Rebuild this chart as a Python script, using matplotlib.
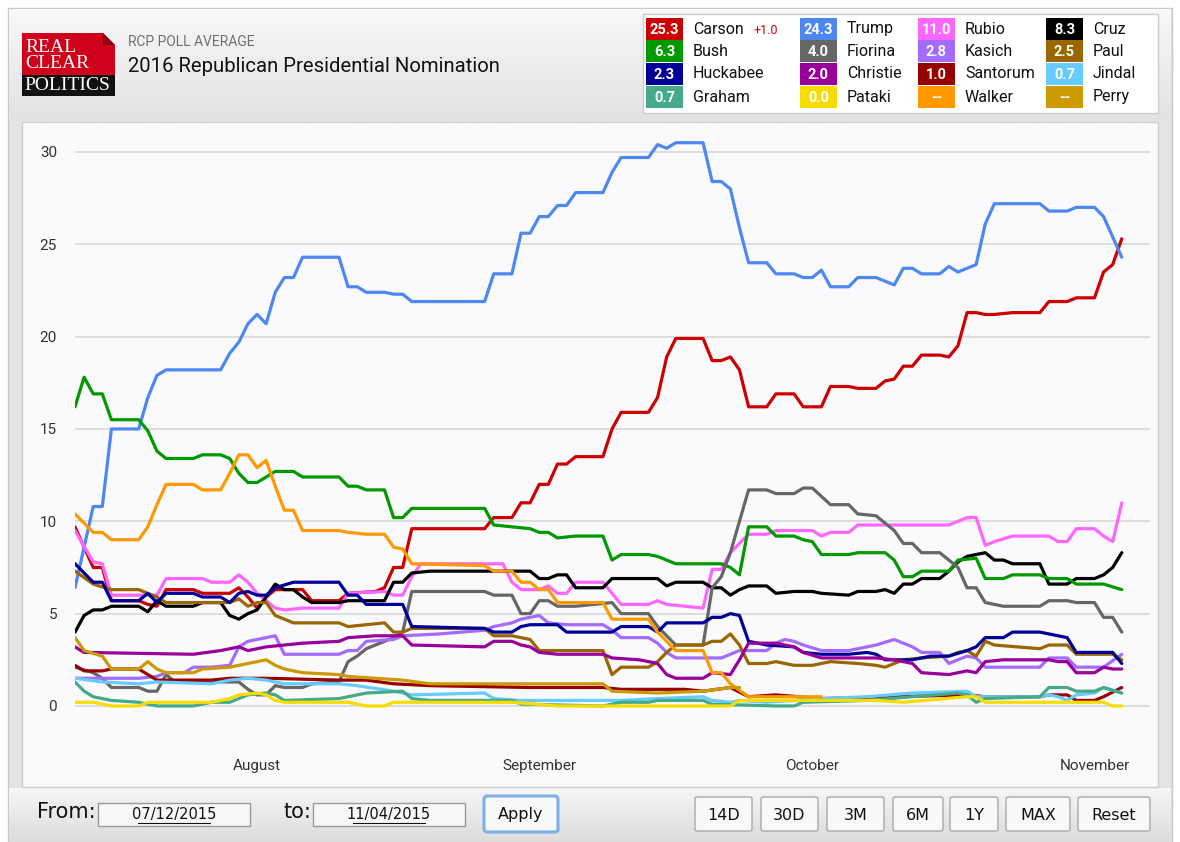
import numpy as np
import pandas as pd
import matplotlib
matplotlib.use('Agg')
import matplotlib.pyplot as plt
from matplotlib.patches import Rectangle, Polygon, FancyBboxPatch
import matplotlib.transforms as mtransforms

START = pd.Timestamp('2015-07-12')

# day offsets from 07/12/2015 and RCP average values
carson_days = [0, 2, 3, 4, 7, 8, 9, 10, 13, 14, 17, 18, 19, 20, 21, 22, 25, 26, 29, 30, 33, 34, 35, 36, 37, 45, 46, 48, 49, 50, 51, 52, 53, 54, 55, 58, 59, 60, 63, 64, 65, 66, 69, 70, 71, 72, 73, 74, 76, 77, 79, 80, 82, 83, 85, 86, 88, 89, 90, 91, 92, 93, 95, 96, 97, 98, 99, 100, 101, 103, 106, 107, 109, 110, 112, 113, 114, 115]
carson_vals = [9.7, 7.5, 7.5, 5.7, 5.7, 5.5, 5.4, 6.3, 6.3, 6.1, 6.1, 6.4, 5.9, 5.3, 5.9, 6.3, 6.3, 5.7, 5.7, 6.1, 6.2, 6.4, 7.5, 7.5, 9.6, 9.6, 10.2, 10.2, 11.0, 11.0, 12.0, 12.0, 13.1, 13.1, 13.5, 13.5, 15.0, 15.9, 15.9, 16.7, 18.9, 19.9, 19.9, 18.7, 18.7, 18.9, 18.2, 16.2, 16.2, 16.9, 16.9, 16.2, 16.2, 17.3, 17.3, 17.2, 17.2, 17.6, 17.7, 18.4, 18.4, 19.0, 19.0, 18.9, 19.5, 21.3, 21.3, 21.2, 21.2, 21.3, 21.3, 21.9, 21.9, 22.1, 22.1, 23.5, 23.9, 25.3]

trump_days = [0, 2, 3, 4, 7, 8, 9, 10, 16, 17, 18, 19, 20, 21, 22, 23, 24, 25, 29, 30, 31, 32, 34, 35, 36, 37, 45, 46, 48, 49, 50, 51, 52, 53, 54, 55, 58, 59, 60, 63, 64, 65, 66, 69, 70, 71, 72, 73, 74, 76, 77, 79, 80, 81, 82, 83, 85, 86, 88, 90, 91, 92, 93, 95, 96, 97, 99, 100, 101, 106, 107, 109, 110, 112, 113, 114, 115]
trump_vals = [6.4, 10.8, 10.8, 15.0, 15.0, 16.7, 17.9, 18.2, 18.2, 19.1, 19.7, 20.7, 21.2, 20.7, 22.4, 23.2, 23.2, 24.3, 24.3, 22.7, 22.7, 22.4, 22.4, 22.3, 22.3, 21.9, 21.9, 23.4, 23.4, 25.6, 25.6, 26.5, 26.5, 27.1, 27.1, 27.8, 27.8, 28.9, 29.7, 29.7, 30.4, 30.2, 30.5, 30.5, 28.4, 28.4, 28.0, 25.9, 24.0, 24.0, 23.4, 23.4, 23.2, 23.2, 23.6, 22.7, 22.7, 23.2, 23.2, 22.8, 23.7, 23.7, 23.4, 23.4, 23.8, 23.5, 23.9, 26.1, 27.2, 27.2, 26.8, 26.8, 27.0, 27.0, 26.5, 25.4, 24.3]

rubio_days = [0, 2, 3, 4, 9, 10, 14, 15, 17, 18, 19, 20, 22, 23, 25, 29, 30, 34, 35, 36, 37, 38, 47, 48, 49, 51, 52, 53, 54, 55, 58, 60, 63, 64, 65, 69, 70, 71, 72, 73, 74, 76, 77, 81, 82, 83, 85, 86, 96, 98, 99, 100, 101, 103, 107, 108, 109, 110, 112, 113, 114, 115]
rubio_vals = [9.5, 7.8, 7.7, 6.0, 6.0, 6.9, 6.9, 6.7, 6.7, 7.1, 6.7, 6.1, 5.3, 5.2, 5.3, 5.3, 6.1, 6.2, 6.0, 6.0, 7.0, 7.7, 7.7, 6.7, 6.3, 6.3, 6.5, 6.1, 6.1, 6.7, 6.7, 5.5, 5.5, 5.7, 5.5, 5.3, 7.4, 7.4, 8.3, 8.8, 9.3, 9.3, 9.5, 9.5, 9.2, 9.4, 9.4, 9.8, 9.8, 10.2, 10.2, 8.7, 8.9, 9.2, 9.2, 8.9, 8.9, 9.6, 9.6, 9.2, 8.9, 11.0]

cruz_days = [0, 1, 2, 3, 4, 7, 8, 9, 10, 13, 14, 16, 17, 18, 19, 20, 21, 22, 23, 24, 25, 26, 29, 30, 34, 35, 36, 37, 39, 50, 51, 52, 53, 54, 55, 58, 59, 64, 65, 66, 69, 70, 71, 72, 73, 74, 76, 77, 79, 81, 82, 85, 86, 88, 89, 90, 91, 92, 93, 95, 96, 97, 98, 100, 101, 102, 103, 106, 107, 109, 110, 112, 113, 114, 115]
cruz_vals = [4.0, 4.9, 5.2, 5.2, 5.4, 5.4, 5.1, 5.7, 5.4, 5.4, 5.6, 5.6, 4.9, 4.7, 5.0, 5.2, 5.9, 6.6, 6.3, 6.3, 5.9, 5.6, 5.6, 5.7, 5.7, 6.7, 6.7, 7.2, 7.3, 7.3, 6.9, 6.9, 7.1, 7.1, 6.4, 6.4, 6.9, 6.9, 6.5, 6.7, 6.7, 6.4, 6.4, 6.0, 6.3, 6.5, 6.5, 6.1, 6.2, 6.2, 6.1, 6.0, 6.2, 6.2, 6.3, 6.1, 6.6, 6.6, 6.9, 6.9, 7.3, 7.8, 8.1, 8.3, 7.9, 7.9, 7.7, 7.7, 6.6, 6.6, 6.9, 6.9, 7.1, 7.5, 8.3]

bush_days = [0, 1, 2, 3, 4, 7, 8, 9, 10, 13, 14, 16, 17, 18, 19, 20, 22, 24, 25, 29, 30, 31, 32, 34, 35, 36, 37, 45, 46, 48, 50, 51, 52, 53, 55, 58, 59, 60, 63, 64, 66, 71, 72, 73, 74, 76, 77, 79, 80, 81, 82, 85, 86, 89, 90, 91, 92, 93, 96, 97, 99, 100, 102, 103, 106, 107, 109, 110, 113, 115]
bush_vals = [16.2, 17.8, 16.9, 16.9, 15.5, 15.5, 14.9, 13.8, 13.4, 13.4, 13.6, 13.6, 13.4, 12.6, 12.1, 12.1, 12.7, 12.7, 12.4, 12.4, 11.9, 11.9, 11.7, 11.7, 10.2, 10.2, 10.7, 10.7, 9.8, 9.7, 9.6, 9.4, 9.4, 9.1, 9.2, 9.2, 7.9, 8.2, 8.2, 8.1, 7.7, 7.7, 7.5, 7.1, 9.7, 9.7, 9.2, 9.2, 9.0, 8.9, 8.2, 8.2, 8.3, 8.3, 7.9, 7.0, 7.0, 7.3, 7.3, 7.9, 8.0, 6.9, 6.9, 7.1, 7.1, 6.9, 6.9, 6.6, 6.6, 6.3]

fiorina_days = [0, 2, 3, 4, 7, 8, 9, 10, 11, 18, 19, 20, 21, 22, 23, 25, 26, 29, 30, 31, 32, 35, 36, 37, 45, 46, 48, 49, 50, 51, 52, 53, 55, 59, 60, 63, 64, 66, 69, 70, 71, 72, 73, 74, 76, 77, 79, 80, 81, 83, 85, 86, 88, 90, 91, 92, 93, 95, 97, 98, 99, 100, 102, 106, 107, 109, 110, 112, 113, 114, 115]
fiorina_vals = [2.1, 1.8, 1.5, 1.0, 1.0, 0.8, 0.8, 1.7, 1.3, 1.3, 0.9, 0.6, 0.6, 1.1, 1.0, 1.0, 1.2, 1.3, 2.4, 2.7, 3.1, 3.7, 4.0, 6.2, 6.2, 6.0, 6.0, 5.0, 5.0, 5.7, 5.7, 5.4, 5.4, 5.6, 5.0, 5.0, 4.3, 3.3, 3.3, 6.4, 7.0, 8.3, 10.0, 11.7, 11.7, 11.5, 11.5, 11.8, 11.8, 10.9, 10.9, 10.4, 10.3, 9.5, 8.8, 8.8, 8.3, 8.3, 7.5, 6.4, 6.4, 5.6, 5.4, 5.4, 5.7, 5.7, 5.6, 5.6, 4.8, 4.8, 4.0]

kasich_days = [0, 7, 9, 10, 12, 13, 15, 17, 18, 19, 20, 21, 22, 23, 29, 30, 31, 32, 35, 36, 40, 45, 46, 48, 49, 50, 51, 52, 54, 58, 59, 60, 63, 64, 65, 66, 71, 72, 73, 76, 77, 78, 79, 80, 82, 85, 87, 88, 90, 91, 92, 93, 95, 96, 98, 99, 100, 106, 107, 109, 110, 113, 115]
kasich_vals = [1.5, 1.5, 1.6, 1.8, 1.8, 2.1, 2.1, 2.2, 3.2, 3.5, 3.6, 3.7, 3.8, 2.8, 2.8, 3.0, 3.0, 3.5, 3.6, 3.8, 3.9, 4.1, 4.3, 4.5, 4.7, 4.8, 4.9, 4.5, 4.4, 4.4, 4.1, 3.7, 3.7, 3.4, 2.9, 2.6, 2.6, 2.8, 3.0, 3.0, 3.4, 3.6, 3.5, 3.3, 3.0, 3.0, 3.2, 3.3, 3.6, 3.4, 3.2, 2.9, 2.9, 2.3, 2.7, 2.6, 2.1, 2.1, 2.6, 2.6, 2.1, 2.1, 2.8]

paul_days = [0, 2, 4, 7, 8, 9, 10, 17, 18, 19, 20, 21, 22, 23, 24, 29, 30, 34, 35, 36, 37, 45, 46, 48, 49, 50, 51, 58, 59, 60, 63, 64, 65, 66, 69, 70, 71, 72, 73, 74, 76, 77, 79, 81, 83, 86, 88, 89, 90, 91, 93, 96, 97, 98, 99, 100, 101, 106, 107, 109, 110, 114, 115]
paul_vals = [7.3, 6.6, 6.3, 6.3, 6.1, 5.9, 5.6, 5.6, 5.8, 5.4, 5.6, 5.6, 4.9, 4.7, 4.5, 4.5, 4.3, 4.5, 4.0, 4.0, 4.2, 4.2, 3.8, 3.8, 3.7, 3.6, 3.0, 3.0, 1.7, 2.1, 2.1, 2.4, 2.9, 3.3, 3.3, 3.5, 3.5, 3.9, 3.3, 2.3, 2.3, 2.4, 2.2, 2.2, 2.4, 2.3, 2.2, 2.1, 2.3, 2.5, 2.6, 2.7, 2.9, 3.0, 2.7, 3.5, 3.3, 3.1, 3.3, 3.3, 2.8, 2.8, 2.5]

huckabee_days = [0, 1, 2, 3, 4, 7, 8, 9, 10, 13, 14, 16, 17, 18, 19, 20, 21, 22, 24, 29, 30, 31, 32, 36, 37, 45, 46, 48, 49, 50, 53, 54, 59, 60, 63, 64, 65, 69, 70, 71, 72, 73, 74, 76, 79, 80, 82, 85, 87, 88, 89, 92, 94, 96, 98, 99, 100, 102, 103, 106, 109, 110, 114, 115]
huckabee_vals = [7.7, 7.2, 6.7, 6.7, 5.7, 5.7, 6.1, 5.6, 6.1, 6.1, 5.9, 5.9, 5.6, 6.1, 6.2, 6.0, 6.0, 6.4, 6.7, 6.7, 6.0, 6.0, 5.5, 5.5, 4.3, 4.2, 4.0, 4.0, 4.3, 4.4, 4.4, 4.0, 4.0, 4.3, 4.3, 4.0, 4.5, 4.5, 4.8, 4.8, 5.0, 4.9, 3.5, 3.3, 3.2, 2.9, 2.8, 2.8, 2.9, 2.8, 2.5, 2.5, 2.7, 2.7, 3.0, 3.2, 3.7, 3.7, 4.0, 4.0, 3.7, 2.9, 2.9, 2.3]

christie_days = [0, 1, 13, 16, 18, 19, 21, 23, 25, 29, 30, 33, 36, 37, 45, 46, 48, 49, 50, 51, 53, 58, 59, 62, 64, 65, 66, 69, 70, 72, 73, 74, 77, 79, 80, 82, 88, 90, 92, 93, 96, 98, 99, 100, 102, 107, 108, 109, 110, 112, 113, 114, 115]
christie_vals = [3.2, 2.9, 2.8, 3.0, 3.2, 3.0, 3.2, 3.3, 3.4, 3.5, 3.7, 3.8, 3.8, 3.3, 3.2, 3.5, 3.5, 3.3, 3.2, 2.9, 2.8, 2.8, 2.6, 2.5, 2.3, 1.7, 1.5, 1.5, 1.8, 1.7, 2.5, 3.4, 3.4, 3.2, 2.9, 2.6, 2.6, 2.5, 2.3, 1.8, 1.7, 1.9, 1.8, 2.4, 2.5, 2.5, 2.4, 2.4, 1.8, 1.8, 2.1, 2.0, 2.0]

santorum_days = [0, 1, 3, 4, 7, 8, 9, 15, 17, 21, 29, 32, 35, 39, 50, 58, 60, 67, 69, 72, 74, 77, 82, 98, 100, 106, 107, 109, 110, 112, 113, 115]
santorum_vals = [2.2, 1.9, 1.9, 2.0, 2.0, 1.7, 1.4, 1.4, 1.5, 1.5, 1.4, 1.4, 1.2, 1.1, 1.0, 1.0, 0.9, 0.9, 0.8, 1.0, 0.5, 0.6, 0.4, 0.6, 0.5, 0.5, 0.6, 0.6, 0.3, 0.3, 0.5, 1.0]

jindal_days = [0, 3, 7, 9, 15, 17, 19, 21, 23, 29, 31, 35, 37, 45, 46, 49, 60, 64, 69, 70, 72, 73, 76, 82, 87, 92, 98, 99, 106, 107, 108, 109, 110, 112, 113, 115]
jindal_vals = [1.5, 1.3, 1.2, 1.3, 1.2, 1.4, 1.5, 1.4, 1.2, 1.2, 1.1, 0.8, 0.6, 0.7, 0.4, 0.3, 0.3, 0.4, 0.5, 0.3, 0.2, 0.3, 0.2, 0.4, 0.5, 0.7, 0.8, 0.5, 0.5, 0.6, 0.5, 0.3, 0.6, 0.7, 1.0, 0.7]

graham_days = [0, 1, 2, 4, 7, 9, 13, 15, 17, 19, 21, 22, 23, 29, 32, 36, 37, 39, 48, 49, 58, 60, 63, 64, 69, 70, 77, 79, 80, 87, 97, 98, 99, 100, 106, 107, 109, 110, 112, 113, 115]
graham_vals = [1.3, 0.8, 0.5, 0.3, 0.2, 0.0, 0.0, 0.2, 0.2, 0.6, 0.7, 0.6, 0.3, 0.4, 0.7, 0.8, 0.4, 0.3, 0.3, 0.1, 0.0, 0.2, 0.2, 0.3, 0.3, 0.1, 0.0, 0.0, 0.2, 0.3, 0.7, 0.6, 0.2, 0.4, 0.5, 1.0, 1.0, 0.8, 0.8, 1.0, 0.7]

pataki_days = [0, 2, 4, 7, 8, 15, 17, 18, 20, 21, 22, 23, 30, 32, 34, 35, 48, 53, 72, 73, 88, 91, 98, 99, 100, 113, 114, 115]
pataki_vals = [0.2, 0.2, 0.0, 0.0, 0.2, 0.2, 0.4, 0.6, 0.7, 0.6, 0.3, 0.2, 0.2, 0.0, 0.0, 0.2, 0.2, 0.0, 0.0, 0.3, 0.3, 0.2, 0.5, 0.5, 0.2, 0.2, 0.0, 0.0]

walker_days = [0, 2, 3, 4, 7, 8, 9, 10, 13, 14, 16, 17, 18, 19, 20, 21, 22, 23, 24, 25, 29, 30, 32, 34, 35, 36, 37, 45, 46, 48, 49, 50, 51, 52, 53, 58, 59, 63, 64, 66, 69, 70, 71, 72, 74, 82]
walker_vals = [10.4, 9.4, 9.4, 9.0, 9.0, 9.7, 10.9, 12.0, 12.0, 11.7, 11.7, 12.6, 13.6, 13.6, 12.9, 13.3, 11.9, 10.6, 10.6, 9.5, 9.5, 9.4, 9.3, 9.3, 8.6, 8.5, 7.7, 7.6, 7.3, 7.3, 6.7, 6.7, 6.3, 6.3, 5.6, 5.6, 4.7, 4.7, 4.0, 3.0, 3.0, 1.8, 1.8, 1.2, 0.5, 0.5]

perry_days = [0, 1, 3, 4, 7, 8, 9, 10, 13, 14, 17, 18, 20, 21, 22, 23, 25, 29, 30, 36, 39, 50, 58, 59, 64, 69, 72, 73]
perry_vals = [3.7, 3.0, 2.7, 2.0, 2.0, 2.4, 2.0, 1.8, 1.8, 2.0, 2.1, 2.2, 2.4, 2.5, 2.2, 2.0, 1.8, 1.7, 1.6, 1.4, 1.2, 1.2, 1.2, 0.8, 0.7, 0.8, 1.0, 1.0]

# legend, row by row as in the header box
legend_names = ['Carson', 'Trump', 'Rubio', 'Cruz',
                'Bush', 'Fiorina', 'Kasich', 'Paul',
                'Huckabee', 'Christie', 'Santorum', 'Jindal',
                'Graham', 'Pataki', 'Walker', 'Perry']
legend_vals = ['25.3', '24.3', '11.0', '8.3',
               '6.3', '4.0', '2.8', '2.5',
               '2.3', '2.0', '1.0', '0.7',
               '0.7', '0.0', '--', '--']
colors = {'Carson': '#CC0000', 'Trump': '#4D88F2', 'Rubio': '#FF66FF', 'Cruz': '#000000',
          'Bush': '#009900', 'Fiorina': '#666666', 'Kasich': '#A36BFF', 'Paul': '#996600',
          'Huckabee': '#000099', 'Christie': '#990099', 'Santorum': '#990000', 'Jindal': '#66CCFF',
          'Graham': '#44AA88', 'Pataki': '#F7DC00', 'Walker': '#FF9900', 'Perry': '#CC9900'}
series = {'Carson': (carson_days, carson_vals), 'Trump': (trump_days, trump_vals),
          'Rubio': (rubio_days, rubio_vals), 'Cruz': (cruz_days, cruz_vals),
          'Bush': (bush_days, bush_vals), 'Fiorina': (fiorina_days, fiorina_vals),
          'Kasich': (kasich_days, kasich_vals), 'Paul': (paul_days, paul_vals),
          'Huckabee': (huckabee_days, huckabee_vals), 'Christie': (christie_days, christie_vals),
          'Santorum': (santorum_days, santorum_vals), 'Jindal': (jindal_days, jindal_vals),
          'Graham': (graham_days, graham_vals), 'Pataki': (pataki_days, pataki_vals),
          'Walker': (walker_days, walker_vals), 'Perry': (perry_days, perry_vals)}
months = ['August', 'September', 'October', 'November']
month_starts = ['2015-08-01', '2015-09-01', '2015-10-01', '2015-11-01']
y_ticks = [0, 5, 10, 15, 20, 25, 30]
buttons = ['14D', '30D', '3M', '6M', '1Y', 'MAX', 'Reset']

plt.rcParams['font.family'] = ['Roboto', 'DejaVu Sans']

W, H = 1180, 842
fig = plt.figure(figsize=(W / 100, H / 100), dpi=100)
fig.patch.set_facecolor('white')

# background layer in pixel coordinates
bg = fig.add_axes([0, 0, 1, 1])
bg.set_xlim(0, W)
bg.set_ylim(H, 0)
bg.axis('off')

bg.add_patch(Rectangle((8, 8), 1164, 840, facecolor='#E4E4E4', edgecolor='#C8C8C8', lw=1, zorder=0))
grad = np.linspace(0, 1, 100).reshape(-1, 1)
bg.imshow(grad, cmap=matplotlib.colors.LinearSegmentedColormap.from_list('g', ['#F8F8F8', '#E2E2E2']),
          extent=(9, 1171, 121, 9), aspect='auto', zorder=0.5)
bg.imshow(grad, cmap=matplotlib.colors.LinearSegmentedColormap.from_list('g2', ['#F6F6F6', '#DCDCDC']),
          extent=(9, 1171, 842, 788), aspect='auto', zorder=0.5)
bg.set_xlim(0, W)
bg.set_ylim(H, 0)

# chart panel
bg.add_patch(Rectangle((22, 122), 1136, 665, facecolor='#FAFAFD', edgecolor='#CFCFCF', lw=1, zorder=1))

# logo
bg.add_patch(Rectangle((22, 33), 93, 42, facecolor='#D0021B', edgecolor='none', zorder=2))
bg.add_patch(Polygon([(103, 33), (115, 33), (115, 45)], closed=True, facecolor='#F2F2F2', zorder=3))
bg.add_patch(Polygon([(103, 33), (115, 45), (103, 45)], closed=True, facecolor='#8E0012', zorder=3))
bg.add_patch(Rectangle((22, 75), 93, 21, facecolor='#111111', edgecolor='none', zorder=2))
bg.text(25, 47, 'REAL', color='white', fontsize=14, family='Liberation Serif', va='center', ha='left', zorder=4)
bg.text(25, 64, 'CLEAR', color='white', fontsize=14, family='Liberation Serif', va='center', ha='left', zorder=4)
bg.text(24, 86, 'POLITICS', color='white', fontsize=14, family='Liberation Serif', va='center', ha='left', zorder=4)

bg.text(128, 42, 'RCP POLL AVERAGE', color='#707070', fontsize=10, va='center', ha='left', zorder=4)
bg.text(128, 67, '2016 Republican Presidential Nomination', color='#111111', fontsize=14.6, va='center', ha='left', zorder=4)

# legend box
bg.add_patch(Rectangle((643, 14), 515, 99, facecolor='white', edgecolor='#CCCCCC', lw=1, zorder=2))
col_x = [646, 800, 918, 1046]
row_y = [29, 51, 74, 97]
for i, (name, val) in enumerate(zip(legend_names, legend_vals)):
    cx = col_x[i % 4]
    cy = row_y[i // 4]
    bg.add_patch(Rectangle((cx, cy - 11), 37, 22, facecolor=colors[name], edgecolor='none', zorder=3))
    bg.text(cx + 18.5, cy + 1, val, color='white', fontsize=10.5, fontweight='bold',
            ha='center', va='center', zorder=4)
    bg.text(cx + 47, cy, name, color='#111111', fontsize=11.5, ha='left', va='center', zorder=4)
bg.text(753, 30, '+1.0', color='#CC0000', fontsize=9, ha='left', va='center', zorder=4)

# bottom controls
bg.text(37, 812, 'From:', color='#111111', fontsize=15, ha='left', va='center', family='Liberation Sans Narrow', zorder=4)
bg.text(283, 812, 'to:', color='#111111', fontsize=15, ha='left', va='center', family='Liberation Sans Narrow', zorder=4)
for bx, txt in [(98, '07/12/2015'), (313, '11/04/2015')]:
    bg.add_patch(Rectangle((bx, 803), 152, 23, facecolor='#F7F7F7', edgecolor='#9A9A9A', lw=1, zorder=3))
    bg.text(bx + 76, 815, txt, color='#111111', fontsize=10.5, ha='center', va='center',
            family='Liberation Sans Narrow', zorder=4)
    bg.plot([bx + 40, bx + 112], [823, 823], color='#111111', lw=0.8, zorder=4)
bg.add_patch(FancyBboxPatch((484, 796), 74, 36, boxstyle='round,pad=0,rounding_size=3',
                            facecolor='#F8F8F8', edgecolor='#7FAEE8', lw=2.2, zorder=3))
bg.text(521, 815, 'Apply', color='#111111', fontsize=11.5, ha='center', va='center',
        family='Liberation Sans Narrow', zorder=4)
btn_x = [695, 761, 827, 893, 950, 1006, 1078]
btn_w = [57, 57, 57, 50, 48, 64, 72]
for bx, bw, txt in zip(btn_x, btn_w, buttons):
    bg.add_patch(FancyBboxPatch((bx, 797), bw, 34, boxstyle='round,pad=0,rounding_size=2',
                                facecolor='#F8F8F8', edgecolor='#A8A8A8', lw=1, zorder=3))
    bg.text(bx + bw / 2, 815, txt, color='#111111', fontsize=11.5, ha='center', va='center',
            family='Liberation Sans Narrow', zorder=4)

# plot axes
ax_left, ax_right, ax_top, ax_bottom = 75, 1150, 125, 785
ax = fig.add_axes([ax_left / W, 1 - ax_bottom / H, (ax_right - ax_left) / W, (ax_bottom - ax_top) / H])
ax.set_facecolor('#FAFAFD')
for s in ax.spines.values():
    s.set_visible(False)

for name in legend_names:
    days, vals = series[name]
    dates = START + pd.to_timedelta(days, unit='D')
    ax.plot(dates, vals, color=colors[name], lw=2.3, solid_joinstyle='round', solid_capstyle='round', zorder=3)

ax.set_xlim(START, START + pd.Timedelta(days=118.1))
ax.set_ylim(-4.28, 31.46)
ax.set_yticks(y_ticks)
ax.set_yticklabels([str(t) for t in y_ticks], fontsize=11, color='#333333')
ax.tick_params(axis='y', length=0, pad=13)
ax.set_xticks([])
ax.grid(axis='y', color='#DADADA', lw=1.3, zorder=1)
ax.set_axisbelow(True)

trans = mtransforms.blended_transform_factory(ax.transData, ax.transAxes)
for m, d in zip(months, month_starts):
    ax.text(pd.Timestamp(d), (785 - 766) / 660, m, transform=trans, ha='center', va='center',
            fontsize=11, color='#333333')

fig.savefig('out.png', dpi=100)
